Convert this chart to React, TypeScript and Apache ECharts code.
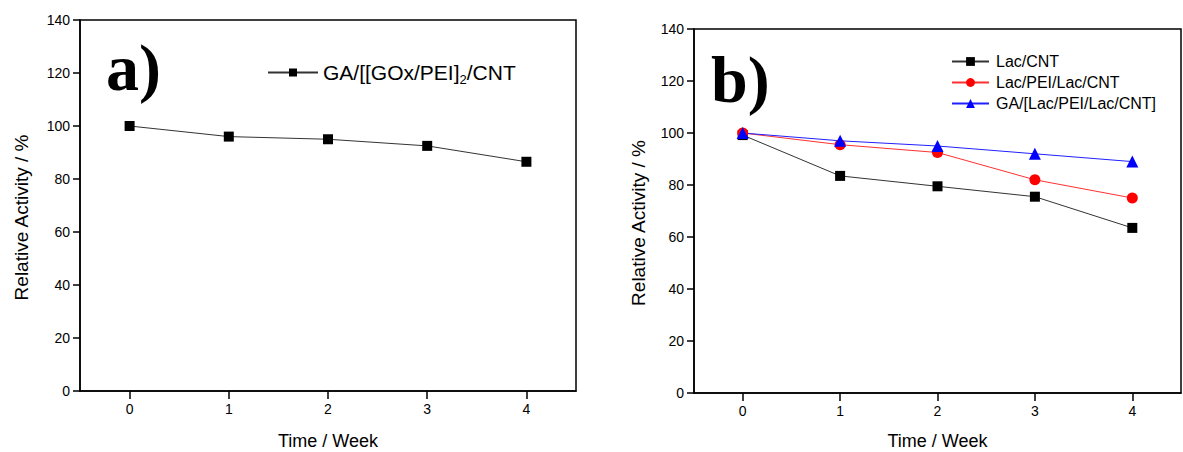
import React, { useEffect, useRef } from "react";
import * as echarts from "echarts";

const weeks = ["0", "1", "2", "3", "4"];
const yTicks = { min: 0, max: 140, interval: 20 };
const goxName = "GA/[[GOx/PEI]2/CNT";
const goxValues = [100, 96, 95, 92.5, 86.5];
const lacCntName = "Lac/CNT";
const lacCntValues = [99.2, 83.5, 79.5, 75.5, 63.5];
const lacPeiName = "Lac/PEI/Lac/CNT";
const lacPeiValues = [100, 95.5, 92.5, 82, 75];
const gaLacName = "GA/[Lac/PEI/Lac/CNT]";
const gaLacValues = [100, 97, 95, 92, 89];

const FONT = '"Liberation Sans", Arial, sans-serif';

export default function App() {
  const ref = useRef<HTMLDivElement>(null);
  useEffect(() => {
    document.body.style.margin = "0";
    const chart = echarts.init(ref.current!, null, { renderer: "svg" });
    const xAxisBase = (gridIndex: number, gap: number) => ({
      type: "category" as const,
      gridIndex,
      data: weeks,
      boundaryGap: true,
      name: "Time / Week",
      nameLocation: "middle" as const,
      nameGap: gap,
      nameTextStyle: { fontFamily: FONT, fontSize: 18, color: "#000" },
      axisLine: { show: true, lineStyle: { color: "#000", width: 1.5 } },
      axisTick: { show: true, alignWithLabel: true, length: 8, lineStyle: { color: "#000", width: 1.5 } },
      axisLabel: { fontFamily: FONT, fontSize: 14, color: "#000", margin: 11 },
      splitLine: { show: false },
    });
    const yAxisBase = (gridIndex: number, gap: number) => ({
      type: "value" as const,
      gridIndex,
      min: yTicks.min,
      max: yTicks.max,
      interval: yTicks.interval,
      name: "Relative Activity / %",
      nameLocation: "middle" as const,
      nameGap: gap,
      nameTextStyle: { fontFamily: FONT, fontSize: 19, color: "#000", padding: [0, 24, 0, 0] },
      axisLine: { show: true, lineStyle: { color: "#000", width: 1.5 } },
      axisTick: { show: true, length: 7, lineStyle: { color: "#000", width: 1.5 } },
      axisLabel: { fontFamily: FONT, fontSize: 14, color: "#000", margin: 10 },
      splitLine: { show: false },
    });
    const lineSeries = (
      name: string,
      data: number[],
      color: string,
      lineColor: string,
      symbol: string,
      size: number,
      idx: number
    ) => ({
      type: "line" as const,
      name,
      data,
      xAxisIndex: idx,
      yAxisIndex: idx,
      symbol,
      symbolSize: size,
      showAllSymbol: true,
      lineStyle: { color: lineColor, width: 1 },
      itemStyle: { color },
    });
    chart.setOption({
      animation: false,
      backgroundColor: "#fff",
      grid: [
        {
          left: 80, top: 20, width: 496, height: 371, show: true, borderColor: "#000", borderWidth: 1.5,
          containLabel: false, outerBoundsMode: "none",
        },
        {
          left: 694, top: 29, width: 487, height: 364, show: true, borderColor: "#000", borderWidth: 1.5,
          containLabel: false, outerBoundsMode: "none",
        },
      ],
      xAxis: [xAxisBase(0, 41), xAxisBase(1, 39)],
      yAxis: [yAxisBase(0, 49), yAxisBase(1, 46)],
      legend: [
        {
          data: [goxName],
          left: 267,
          top: 62,
          padding: 0,
          itemWidth: 50,
          itemHeight: 10,
          formatter: () => "{a|GA/[[GOx/PEI]}{s|2}{a|/CNT}",
          textStyle: {
            fontFamily: FONT,
            fontSize: 21,
            color: "#000",
            rich: {
              a: { fontFamily: FONT, fontSize: 21, color: "#000" },
              s: { fontFamily: FONT, fontSize: 13, color: "#000", padding: [13, 0, 0, 0] },
            },
          },
        },
        {
          data: [lacCntName, lacPeiName, gaLacName],
          orient: "vertical",
          left: 951,
          top: 53,
          padding: 0,
          itemWidth: 37,
          itemHeight: 11,
          itemGap: 4,
          textStyle: { fontFamily: FONT, fontSize: 16, lineHeight: 17, color: "#000", padding: [0, 0, 0, 2] },
        },
      ],
      series: [
        lineSeries(goxName, goxValues, "#000", "#333", "rect", 10, 0),
        lineSeries(lacCntName, lacCntValues, "#000", "#333", "rect", 10, 1),
        lineSeries(lacPeiName, lacPeiValues, "#ff0000", "#ff3030", "circle", 11, 1),
        lineSeries(gaLacName, gaLacValues, "#0000ff", "#2020ff", "triangle", 12, 1),
      ],
      graphic: [
        {
          type: "text",
          left: 106,
          top: 34,
          style: { text: "a)", font: 'bold 66px "Liberation Serif", "Times New Roman", serif', fill: "#000" },
        },
        {
          type: "text",
          left: 711,
          top: 46,
          style: { text: "b)", font: 'bold 66px "Liberation Serif", "Times New Roman", serif', fill: "#000" },
        },
      ],
    });
    return () => chart.dispose();
  }, []);
  return <div ref={ref} style={{ width: 1183, height: 452 }} />;
}
